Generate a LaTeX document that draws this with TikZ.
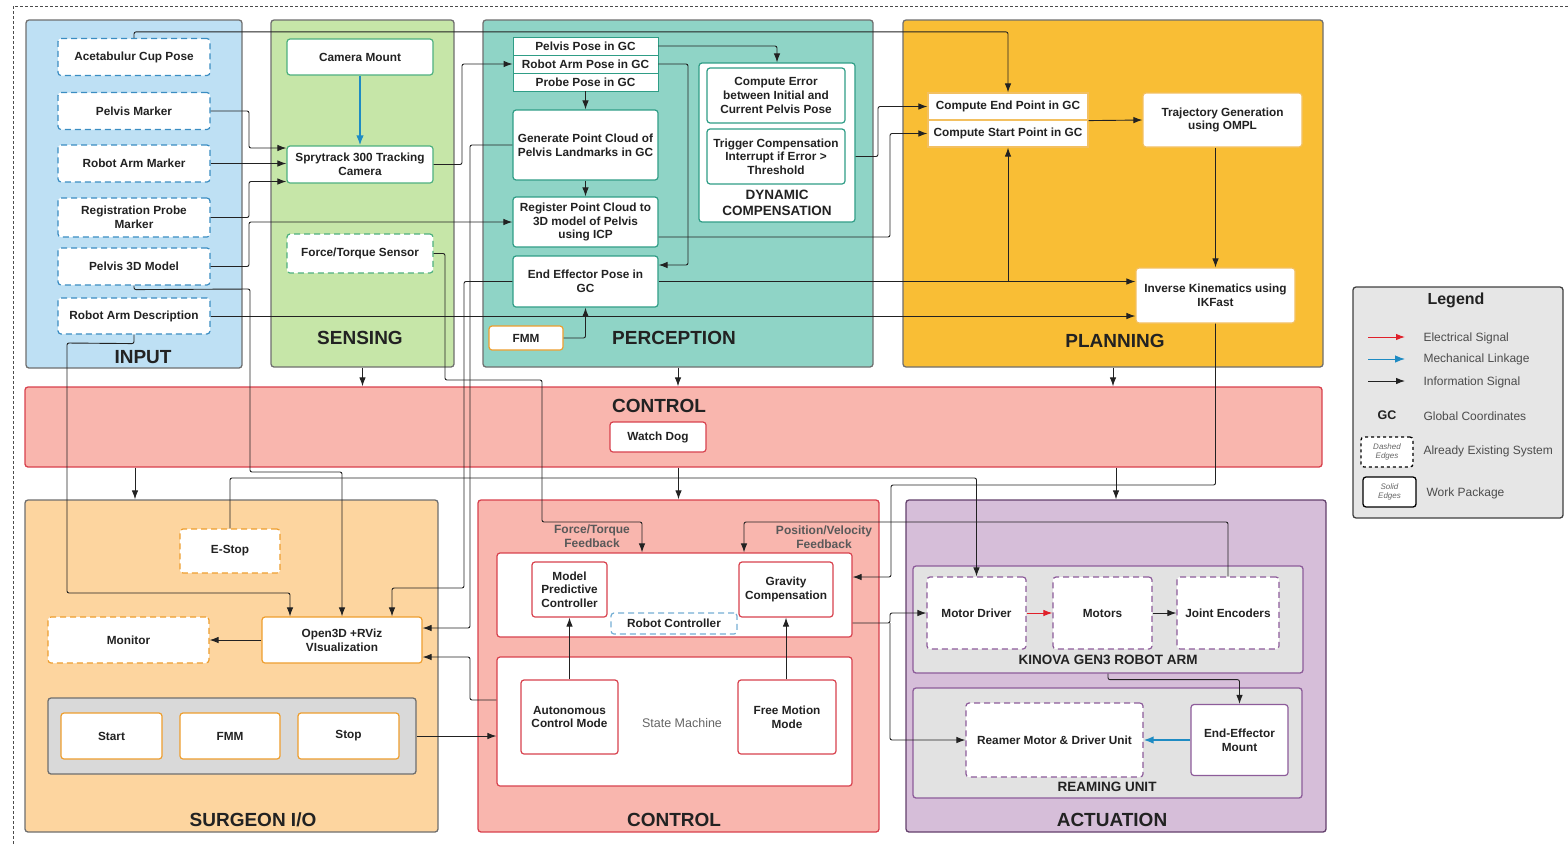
\documentclass[tikz,border=0pt]{standalone}
\usepackage{fontspec}
\setmainfont{Liberation Sans}
\usetikzlibrary{shapes,arrows.meta}
\definecolor{inputbg}{HTML}{BEE0F4}
\definecolor{sensebg}{HTML}{C6E6A8}
\definecolor{percbg}{HTML}{8FD4C6}
\definecolor{planbg}{HTML}{F9BE35}
\definecolor{ctrlbg}{HTML}{F9B6AE}
\definecolor{surgbg}{HTML}{FDD59F}
\definecolor{actbg}{HTML}{D6BED9}
\definecolor{greybg}{HTML}{E2E2E2}
\definecolor{legbg}{HTML}{E6E6E6}
\definecolor{panelline}{HTML}{6F6F6F}
\definecolor{inblue}{HTML}{3A8DC2}
\definecolor{sensegreen}{HTML}{4DB07F}
\definecolor{percteal}{HTML}{2F9D86}
\definecolor{planorange}{HTML}{F3C060}
\definecolor{surgorange}{HTML}{EE9E2E}
\definecolor{ctrlred}{HTML}{D8414D}
\definecolor{actpurple}{HTML}{8D5C9A}
\definecolor{mechblue}{HTML}{1E8BC3}
\definecolor{elecred}{HTML}{E0202A}
\definecolor{textdark}{HTML}{222222}

\begin{document}
\begin{tikzpicture}[x=1pt,y=-1pt]
  \tikzstyle{panel}=[draw=panelline, line width=1.3pt, rounded corners=3pt, inner sep=0pt]
  \tikzstyle{ptitle}=[font=\bfseries\fontsize{19}{22}\selectfont, text=textdark]
  \tikzstyle{subtitle}=[font=\bfseries\fontsize{13.5}{15.5}\selectfont, text=textdark, align=center]
  \tikzstyle{box}=[draw, fill=white, line width=1.2pt, rounded corners=3pt, align=center, inner sep=1pt, text=textdark, font=\bfseries\fontsize{11.8}{13.6}\selectfont]
  \tikzstyle{olddash}=[dash pattern=on 6pt off 4pt]
  \tikzstyle{inbox}=[box, draw=inblue, olddash, minimum width=152pt, minimum height=37pt]
  \tikzstyle{sensebox}=[box, draw=sensegreen, minimum width=146pt, minimum height=36pt]
  \tikzstyle{percbox}=[box, draw=percteal, minimum width=145pt]
  \tikzstyle{percrow}=[percbox, minimum height=18pt, rounded corners=0pt, line width=0.9pt]
  \tikzstyle{planbox}=[box, draw=planorange]
  \tikzstyle{surgbox}=[box, draw=surgorange]
  \tikzstyle{ctrlbox}=[box, draw=ctrlred]
  \tikzstyle{actbox}=[box, draw=actpurple]
  \tikzstyle{fblabel}=[align=center, text=black!65, font=\bfseries\fontsize{12}{13.5}\selectfont]
  \tikzstyle{legtext}=[anchor=west, text=black!70, font=\fontsize{12}{14}\selectfont]
  \tikzstyle{sig}=[draw=textdark, -{Latex[length=9pt,width=6.5pt]}, line width=0.9pt, rounded corners=2pt]
  \tikzstyle{mech}=[draw=mechblue, -{Latex[length=10pt,width=7.5pt]}, line width=1.6pt]
  \tikzstyle{elec}=[draw=elecred, -{Latex[length=9pt,width=6.5pt]}, line width=1pt]

  \useasboundingbox (0,0) rectangle (1568,844);
  \draw[black!70, line width=0.9pt, dash pattern=on 3pt off 2pt] (13,844) -- (13,6) -- (1568,6);

  \node (inputp) [panel, fill=inputbg, minimum width=216pt, minimum height=348pt] at (134,194) {};
  \node (sensp) [panel, fill=sensebg, minimum width=183pt, minimum height=347pt] at (362.5,193.5) {};
  \node (percp) [panel, fill=percbg, minimum width=390pt, minimum height=347pt] at (678,193.5) {};
  \node (planp) [panel, fill=planbg, minimum width=420pt, minimum height=347pt] at (1113,193.5) {};
  \node (ctrlbar) [panel, draw=ctrlred, fill=ctrlbg, minimum width=1297pt, minimum height=80pt] at (673.5,427) {};
  \node (surgp) [panel, fill=surgbg, minimum width=413pt, minimum height=332pt] at (231.5,666) {};
  \node (ctrlp) [panel, draw=ctrlred, fill=ctrlbg, minimum width=401pt, minimum height=332pt] at (678.5,666) {};
  \node (actp) [panel, draw=actpurple!70!black, fill=actbg, minimum width=420pt, minimum height=332pt] at (1116,666) {};
  \node (legp) [panel, draw=black!75, fill=legbg, minimum width=210pt, minimum height=231pt] at (1458,402.5) {};

  \node (inttl) [ptitle] at (143,357) {INPUT};
  \node (senttl) [ptitle] at (360,338) {SENSING};
  \node (perttl) [ptitle] at (674,338) {PERCEPTION};
  \node (plattl) [ptitle] at (1115,341) {PLANNING};
  \node (ctrltop) [ptitle] at (659,406) {CONTROL};
  \node (surgttl) [ptitle] at (253,820) {SURGEON I/O};
  \node (ctrlttl) [ptitle] at (674,820) {CONTROL};
  \node (actttl) [ptitle] at (1112,820) {ACTUATION};

  \node (acup) [inbox] at (134,57) {Acetabulur Cup Pose};
  \node (pelvm) [inbox] at (134,111) {Pelvis Marker};
  \node (robm) [inbox] at (134,163.5) {Robot Arm Marker};
  \node (regm) [inbox, minimum height=39pt] at (134,217.5) {Registration Probe\\Marker};
  \node (pel3d) [inbox] at (134,266.5) {Pelvis 3D Model};
  \node (rad) [inbox, minimum height=36pt] at (134,316) {Robot Arm Description};

  \node (cam) [sensebox] at (360,57) {Camera Mount};
  \node (spry) [sensebox, minimum height=37pt] at (360,164.5) {Sprytrack 300 Tracking\\Camera};
  \node (ft) [sensebox, olddash, minimum height=39pt] at (360,253.5) {Force/Torque Sensor};

  \node (ppose) [percrow] at (585.5,46) {Pelvis Pose in GC};
  \node (rpose) [percrow] at (585.5,64) {Robot Arm Pose in GC};
  \node (prpose) [percrow] at (585.5,82) {Probe Pose in GC};
  \node (genpc) [percbox, minimum height=70pt] at (585.5,145) {Generate Point Cloud of\\Pelvis Landmarks in GC};
  \node (regpc) [percbox, minimum height=50pt] at (585.5,222) {Register Point Cloud to\\3D model of Pelvis\\using ICP};
  \node (eepose) [percbox, minimum height=51pt] at (585.5,281.5) {End Effector Pose in\\GC};
  \node (fmmp) [surgbox, minimum width=74pt, minimum height=24pt] at (526,338) {FMM};
  \node (dyn) [box, draw=percteal, minimum width=156pt, minimum height=159pt] at (777,142.5) {};
  \node (comperr) [percbox, minimum width=138pt, minimum height=55pt] at (776,95.5) {Compute Error\\between Initial and\\Current Pelvis Pose};
  \node (trig) [percbox, minimum width=138pt, minimum height=55pt] at (776,156.5) {Trigger Compensation\\Interrupt if Error >\\Threshold};
  \node (dynlbl) [subtitle] at (777,203) {DYNAMIC\\COMPENSATION};

  \node (endpt) [planbox, minimum width=160pt, minimum height=27pt, rounded corners=0pt] at (1008,106.5) {Compute End Point in GC};
  \node (startpt) [planbox, minimum width=160pt, minimum height=27pt, rounded corners=0pt] at (1008,133.5) {Compute Start Point in GC};
  \node (traj) [planbox, minimum width=159pt, minimum height=54pt] at (1222.5,120) {Trajectory Generation\\using OMPL};
  \node (ik) [planbox, minimum width=159pt, minimum height=55pt] at (1215.5,295.5) {Inverse Kinematics using\\IKFast};

  \node (wdog) [ctrlbox, minimum width=96pt, minimum height=30pt] at (658,437) {Watch Dog};

  \node (estop) [surgbox, olddash, minimum width=100pt, minimum height=44pt] at (230,551) {E-Stop};
  \node (monitor) [surgbox, olddash, minimum width=161pt, minimum height=46pt] at (128.5,640) {Monitor};
  \node (open3d) [surgbox, minimum width=160pt, minimum height=46pt] at (342,640) {Open3D +RViz\\VIsualization};
  \node (btns) [panel, fill=black!15, minimum width=368pt, minimum height=76pt] at (232,736) {};
  \node (start) [surgbox, minimum width=101pt, minimum height=46pt] at (111.5,736) {Start};
  \node (fmms) [surgbox, minimum width=100pt, minimum height=46pt] at (230,736) {FMM};
  \node (stop) [surgbox, minimum width=101pt, minimum height=46pt] at (348.5,736) {Stop};

  \node (rctrl) [ctrlbox, minimum width=355pt, minimum height=84pt] at (674.5,595) {};
  \node (mpc) [ctrlbox, minimum width=75pt, minimum height=55pt] at (569.5,589.5) {Model\\Predictive\\Controller};
  \node (grav) [ctrlbox, minimum width=94pt, minimum height=55pt] at (786,589.5) {Gravity\\Compensation};
  \node (rclbl) [box, draw=inblue!70, olddash, minimum width=126pt, minimum height=21pt] at (674,623.5) {Robot Controller};
  \node (smach) [ctrlbox, minimum width=355pt, minimum height=129pt] at (674.5,721.5) {};
  \node (auto) [ctrlbox, minimum width=97pt, minimum height=74pt] at (569.5,717) {Autonomous\\Control Mode};
  \node (free) [ctrlbox, minimum width=98pt, minimum height=74pt] at (787,717) {Free Motion\\Mode};
  \node (smlbl) [text=black!60, font=\fontsize{12.5}{14}\selectfont] at (682,723) {State Machine};
  \node (ftfb) [fblabel] at (592,536) {Force/Torque\\Feedback};
  \node (pvfb) [fblabel] at (824,537) {Position/Velocity\\Feedback};

  \node (kinova) [panel, draw=actpurple, fill=greybg, minimum width=390pt, minimum height=107pt] at (1108,619.5) {};
  \node (kinlbl) [subtitle] at (1108,660) {KINOVA GEN3 ROBOT ARM};
  \node (mdrv) [actbox, olddash, minimum width=99pt, minimum height=72pt] at (976.5,613) {Motor Driver};
  \node (motors) [actbox, olddash, minimum width=99pt, minimum height=72pt] at (1102.5,613) {Motors};
  \node (jenc) [actbox, olddash, minimum width=102pt, minimum height=72pt] at (1228,613) {Joint Encoders};
  \node (reamu) [panel, draw=actpurple, fill=greybg, minimum width=389pt, minimum height=110pt] at (1107.5,743) {};
  \node (reamlbl) [subtitle] at (1107,787) {REAMING UNIT};
  \node (reamer) [actbox, olddash, minimum width=177pt, minimum height=74pt] at (1054.5,740) {Reamer Motor \& Driver Unit};
  \node (eemount) [actbox, minimum width=97pt, minimum height=71pt] at (1239.5,740) {End-Effector\\Mount};

  \node (legttl) [text=textdark, font=\bfseries\fontsize{16}{18}\selectfont] at (1456,300) {Legend};
  \coordinate (lg1) at (1368,337);
  \coordinate (lg2) at (1368,359);
  \coordinate (lg3) at (1368,381);
  \draw[elec] (lg1) -- ++(37,0);
  \draw[mech, line width=1pt] (lg2) -- ++(37,0);
  \draw[sig] (lg3) -- ++(37,0);
  \node (lgt1) [legtext] at (1420,338) {Electrical Signal};
  \node (lgt2) [legtext] at (1420,359) {Mechanical Linkage};
  \node (lgt3) [legtext] at (1420,382) {Information Signal};
  \node (lggc) [text=textdark, font=\bfseries\fontsize{12.5}{14}\selectfont] at (1387,415) {GC};
  \node (lgt4) [legtext] at (1420,416) {Global Coordinates};
  \node (lgdash) [draw=black, fill=white, dashed, line width=1.3pt, rounded corners=3pt, minimum width=52pt, minimum height=30pt, inner sep=0pt, align=center, text=black!60, font=\itshape\fontsize{8}{9}\selectfont] at (1387,452) {Dashed\\Edges};
  \node (lgt5) [legtext] at (1420,451) {Already Existing System};
  \node (lgsolid) [draw=black, fill=white, line width=1.3pt, rounded corners=3pt, minimum width=53pt, minimum height=30pt, inner sep=0pt, align=center, text=black!60, font=\itshape\fontsize{8}{9}\selectfont] at (1389.5,492) {Solid\\Edges};
  \node (lgt6) [legtext] at (1423,493) {Work Package};

  \draw[sig] (acup.north) -- ++(0,-6) -| (endpt.north);
  \draw[sig] (pelvm.east) -- (249,111) |- ([yshift=16.5pt]spry.west);
  \draw[sig] (robm.east) -- (robm.east -| spry.west);
  \draw[sig] (regm.east) -- (249,217.5) |- ([yshift=-17pt]spry.west);
  \draw[sig] (pel3d.east) -- (249,266.5) |- (regpc.west);
  \draw[mech] (cam.south) -- (spry.north);
  \draw[sig] (spry.east) -- (462,164.5) |- (rpose.west);
  \draw[sig] (rad.east) -- (rad.east -| ik.west);
  \draw[sig] (rad.south) -- ++(0,9) -- (67,343) -- (67,593) -| ([xshift=-52pt]open3d.north);
  \draw[sig] (pel3d.south) -- ++(0,4) -- (250,289) -- (250,472) -| (open3d.north);
  \draw[sig] (ft.east) -- (445,253.5) -- (445,380) -- (542,380) -- (542,522) -| ([xshift=-32.5pt]rctrl.north);

  \draw[sig] (ppose.east) -| (dyn.north);
  \draw[sig] (rpose.east) -- (688,64) |- ([yshift=16.5pt]eepose.east);
  \draw[sig] (prpose.south) -- (genpc.north);
  \draw[sig] (genpc.south) -- (regpc.north);
  \draw[sig] (fmmp.east) -| (eepose.south);
  \draw[sig] ([yshift=-14pt]dyn.east) -- (878,156.5) |- (endpt.west);
  \draw[sig] ([yshift=-15pt]regpc.east) -- (890,237) |- (startpt.west);
  \draw[sig] (eepose.east) -- (eepose.east -| ik.west);
  \coordinate (eebranch) at (1008,281.5);
  \draw[sig] (eebranch) -- (startpt.south);
  \draw[sig] (genpc.west) -- (470,145) |- ([yshift=12pt]open3d.east);
  \draw[sig] (eepose.west) -- (464,281.5) -- (464,588) -| ([xshift=50pt]open3d.north);

  \draw[sig] (endpt.south east) -- (traj.west);
  \draw[sig] (traj.south -| ik.north) -- (ik.north);
  \draw[sig] (ik.south) -- (1215.5,485) -- (891,485) |- ([yshift=18pt]rctrl.east);

  \coordinate (sarrow) at ([xshift=-96.5pt]surgp.north);
  \draw[sig] (sensp.south) -- (sensp.south |- ctrlbar.north);
  \draw[sig] (percp.south) -- (percp.south |- ctrlbar.north);
  \draw[sig] (planp.south) -- (planp.south |- ctrlbar.north);
  \draw[sig] (sarrow |- ctrlbar.south) -- (sarrow);
  \draw[sig] (ctrlp.north |- ctrlbar.south) -- (ctrlp.north);
  \draw[sig] (actp.north |- ctrlbar.south) -- (actp.north);

  \draw[sig] (open3d.west) -- (monitor.east);
  \draw[sig] ([yshift=21.5pt]smach.west) -- (470,700) |- ([yshift=-17pt]open3d.east);
  \draw[sig] (btns.east) -- (btns.east -| smach.west);
  \draw[sig] (estop.north) -- (230,478) -| (mdrv.north);

  \draw[sig] (auto.north) -- (mpc.south);
  \draw[sig] (free.north -| grav.south) -- (grav.south);
  \draw[sig] (jenc.north) -- (1228,522) -| ([xshift=69.5pt]rctrl.north);
  \draw[sig] ([yshift=-28pt]rctrl.east) -- (890,623) |- (mdrv.west);
  \draw[sig] (890,623) |- (reamer.west);

  \draw[elec] (mdrv.east) -- (motors.west);
  \draw[sig] (motors.east) -- (jenc.west);
  \draw[sig] (kinova.south) -- ++(0,6) -| (eemount.north);
  \draw[mech] (eemount.west) -- (reamer.east);
\end{tikzpicture}
\end{document}
